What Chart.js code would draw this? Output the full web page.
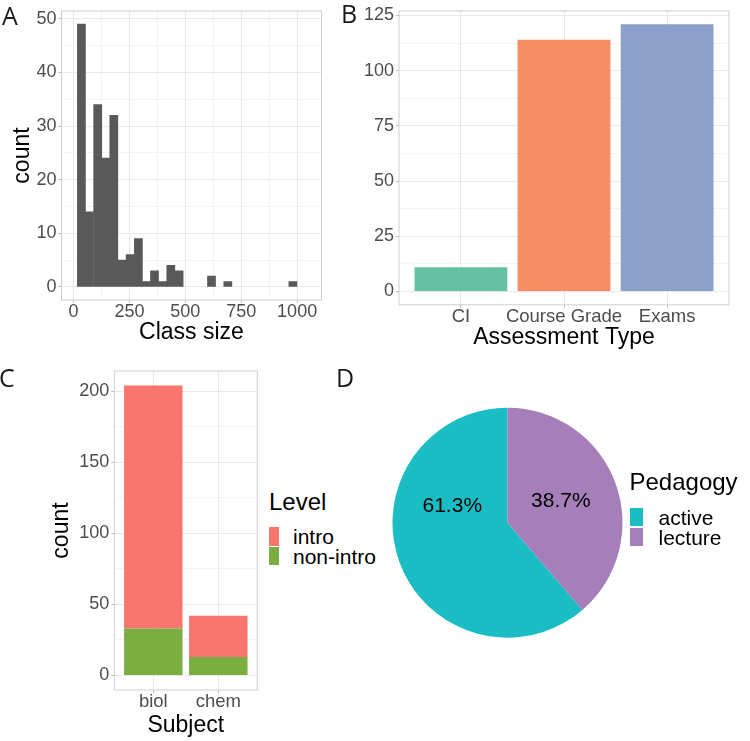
<!DOCTYPE html>
<html>
<head>
<meta charset="utf-8">
<script src="https://cdn.jsdelivr.net/npm/chart.js@4.4.1/dist/chart.umd.min.js"></script>
<style>
  body { margin: 0; background: #fff; }
  #wrap { position: relative; width: 750px; height: 741px; overflow: hidden; font-family: 'Liberation Sans', Arial, sans-serif; }
  canvas { position: absolute; }
  .tag { position: absolute; font-family: 'Open Sans', 'DejaVu Sans', sans-serif; font-size: 25px; line-height: 25px; color: #1a1a1a; }
  .lg { position: absolute; color: #000; white-space: nowrap; }
  .lg-title { font-size: 24px; line-height: 24px; }
  .lg-text { font-size: 21px; line-height: 21px; }
  .key { position: absolute; }
</style>
</head>
<body>
<div id="wrap">
  <canvas id="chartA" width="330" height="345" style="left:0;top:0"></canvas>
  <canvas id="chartB" width="420" height="350" style="left:330px;top:0"></canvas>
  <canvas id="chartC" width="262" height="381" style="left:0;top:360px"></canvas>
  <canvas id="chartD" width="370" height="381" style="left:380px;top:360px"></canvas>

  <div class="tag" style="left:2px;top:3px">A</div>
  <div class="tag" style="left:341px;top:1px">B</div>
  <div class="tag" style="left:-1px;top:365px">C</div>
  <div class="tag" style="left:336px;top:365px">D</div>

  <div id="legendC"></div>
  <div id="legendD"></div>
</div>

<script>
// A: histogram of class size
const binCenters = [35, 71, 108, 144, 180, 217, 253, 290, 326, 362, 399, 435, 472, 508,
  544, 581, 617, 654, 690, 726, 763, 799, 836, 872, 908, 945, 981];
const binCounts = [49, 14, 34, 24, 32, 5, 6, 9, 1, 3, 1, 4, 3, 0,
  0, 0, 2, 0, 1, 0, 0, 0, 0, 0, 0, 0, 1];
const ticksAx = [0, 250, 500, 750, 1000];
const ticksAy = [0, 10, 20, 30, 40, 50];

// B: assessment type
const assessTypes = ['CI', 'Course Grade', 'Exams'];
const assessCounts = [11, 114, 121];
const assessColors = ['#66C2A5', '#F68D63', '#8DA0CB'];
const ticksBy = [0, 25, 50, 75, 100, 125];

// C: subject by level
const subjects = ['biol', 'chem'];
const levels = ['intro', 'non-intro'];
const introCounts = [171, 29];
const nonIntroCounts = [33, 13];
const levelColors = ['#F8766D', '#7BAE41'];
const ticksCy = [0, 50, 100, 150, 200];

// D: pedagogy
const pedagogy = ['active', 'lecture'];
const pedagogyShare = [61.3, 38.7];
const pedagogyColors = ['#1BBDC4', '#A67FBA'];
const pieLabelTurn = [0.795, 0.189];

const FONT = "'Liberation Sans', Arial, sans-serif";
Chart.defaults.font.family = FONT;

const tickGrey = '#4D4D4D';

function withMinors(majors) {
  const out = majors.map(v => ({ value: v }));
  for (let i = 0; i < majors.length - 1; i++) {
    out.push({ value: (majors[i] + majors[i + 1]) / 2, minor: true });
  }
  return out.sort((a, b) => a.value - b.value);
}

function gridStyle() {
  return {
    color: ctx => (ctx.tick && ctx.tick.minor ? '#F3F3F3' : '#E8E8E8'),
    lineWidth: 1,
    offset: false,
    drawTicks: true,
    tickLength: 3,
    tickColor: ctx => (ctx.tick && ctx.tick.minor ? 'rgba(0,0,0,0)' : '#BDBDBD'),
  };
}

const panelBorder = {
  id: 'panelBorder',
  afterDatasetsDraw(chart) {
    const { ctx, chartArea: a } = chart;
    ctx.save();
    ctx.strokeStyle = '#CFCFCF';
    ctx.lineWidth = 1;
    ctx.strokeRect(a.left, a.top, a.right - a.left, a.bottom - a.top);
    ctx.restore();
  },
};

const baseOptions = {
  responsive: false,
  animation: false,
  events: [],
  plugins: { legend: { display: false }, tooltip: { enabled: false } },
};

// ---- A
new Chart(document.getElementById('chartA'), {
  type: 'bar',
  data: {
    datasets: [{
      // empty bins are left out so no zero-height sliver is drawn
      data: binCenters.map((x, i) => ({ x: x, y: binCounts[i] === 0 ? null : binCounts[i] })),
      backgroundColor: '#595959',
      borderWidth: 0,
      barPercentage: 1,
      categoryPercentage: 1,
    }],
  },
  options: {
    ...baseOptions,
    layout: { autoPadding: false, padding: { left: 0, right: 8.5, top: 3, bottom: 0 } },
    scales: {
      x: {
        type: 'linear',
        offset: false,
        min: -54,
        max: 1109,
        afterBuildTicks: s => { s.ticks = withMinors(ticksAx); },
        afterFit: s => { s.height = 45; },
        grid: gridStyle(),
        border: { display: false },
        ticks: {
          autoSkip: false, maxRotation: 0, padding: 0, color: tickGrey,
          font: { size: 18, lineHeight: 1 },
          callback: (v, i, t) => (t[i].minor ? '' : String(v)),
        },
        title: { display: true, text: 'Class size', color: '#000', font: { size: 23, lineHeight: 1 }, padding: { top: 0, bottom: 0.5 } },
      },
      y: {
        min: -2.45,
        max: 51.45,
        afterBuildTicks: s => { s.ticks = withMinors(ticksAy); },
        afterFit: s => { s.width = 61.5; },
        grid: gridStyle(),
        border: { display: false },
        ticks: {
          autoSkip: false, padding: 2, color: tickGrey,
          font: { size: 18, lineHeight: 1 },
          callback: (v, i, t) => (t[i].minor ? '' : String(v)),
        },
        title: { display: true, text: 'count', color: '#000', font: { size: 23, lineHeight: 1 }, padding: { top: 11.5, bottom: 0 } },
      },
    },
  },
  plugins: [panelBorder],
});

// ---- B
new Chart(document.getElementById('chartB'), {
  type: 'bar',
  data: {
    datasets: [{
      data: assessCounts.map((y, i) => ({ x: i + 1, y: y })),
      backgroundColor: assessColors,
      borderWidth: 0,
      barPercentage: 0.9,
      categoryPercentage: 1,
    }],
  },
  options: {
    ...baseOptions,
    layout: { autoPadding: false, padding: { left: 0, right: 21, top: 1.6, bottom: 0 } },
    scales: {
      x: {
        type: 'linear',
        offset: false,
        min: 0.4,
        max: assessTypes.length + 0.6,
        afterBuildTicks: s => { s.ticks = assessTypes.map((_, i) => ({ value: i + 1 })); },
        afterFit: s => { s.height = 45.2; },
        grid: gridStyle(),
        border: { display: false },
        ticks: {
          autoSkip: false, maxRotation: 0, padding: 0, color: tickGrey,
          font: { size: 18.5, lineHeight: 1 },
          callback: v => assessTypes[v - 1],
        },
        title: { display: true, text: 'Assessment Type', color: '#000', font: { size: 23, lineHeight: 1 }, padding: { top: 0, bottom: 0.5 } },
      },
      y: {
        min: -6.05,
        max: 127.05,
        afterBuildTicks: s => { s.ticks = withMinors(ticksBy); },
        afterFit: s => { s.width = 69; },
        grid: gridStyle(),
        border: { display: false },
        ticks: {
          autoSkip: false, padding: 2, color: tickGrey,
          font: { size: 18, lineHeight: 1 },
          callback: (v, i, t) => (t[i].minor ? '' : String(v)),
        },
      },
    },
  },
  plugins: [panelBorder],
});

// ---- C
new Chart(document.getElementById('chartC'), {
  type: 'bar',
  data: {
    datasets: [
      {
        label: levels[1],
        data: nonIntroCounts.map((y, i) => ({ x: i + 1, y: y })),
        backgroundColor: levelColors[1],
        borderWidth: 0,
        barPercentage: 0.9,
        categoryPercentage: 1,
      },
      {
        label: levels[0],
        data: introCounts.map((y, i) => ({ x: i + 1, y: y })),
        backgroundColor: levelColors[0],
        borderWidth: 0,
        barPercentage: 0.9,
        categoryPercentage: 1,
      },
    ],
  },
  options: {
    ...baseOptions,
    layout: { autoPadding: false, padding: { left: 0, right: 4.7, top: 4.3, bottom: 0 } },
    scales: {
      x: {
        type: 'linear',
        offset: false,
        stacked: true,
        min: 0.4,
        max: subjects.length + 0.6,
        afterBuildTicks: s => { s.ticks = subjects.map((_, i) => ({ value: i + 1 })); },
        afterFit: s => { s.height = 51; },
        grid: gridStyle(),
        border: { display: false },
        ticks: {
          autoSkip: false, maxRotation: 0, padding: 0, color: tickGrey,
          font: { size: 18.5, lineHeight: 1 },
          callback: v => subjects[v - 1],
        },
        title: { display: true, text: 'Subject', color: '#000', font: { size: 23, lineHeight: 1 }, padding: { top: 0, bottom: 4.2 } },
      },
      y: {
        stacked: true,
        min: -10.2,
        max: 214.2,
        afterBuildTicks: s => { s.ticks = withMinors(ticksCy); },
        afterFit: s => { s.width = 114.3; },
        grid: gridStyle(),
        border: { display: false },
        ticks: {
          autoSkip: false, padding: 2, color: tickGrey,
          font: { size: 18, lineHeight: 1 },
          callback: (v, i, t) => (t[i].minor ? '' : String(v)),
        },
        title: { display: true, text: 'count', color: '#000', font: { size: 23, lineHeight: 1 }, padding: { top: 50.5, bottom: 0 } },
      },
    },
  },
  plugins: [panelBorder],
});

// ---- D
const pieLabels = {
  id: 'pieLabels',
  afterDatasetsDraw(chart) {
    const ctx = chart.ctx;
    const arcs = chart.getDatasetMeta(0).data;
    ctx.save();
    ctx.font = '21px ' + FONT;
    ctx.fillStyle = '#000';
    ctx.textAlign = 'center';
    ctx.textBaseline = 'middle';
    arcs.forEach((arc, i) => {
      const a = pieLabelTurn[i] * 2 * Math.PI;
      const r = arc.outerRadius * 0.5;
      ctx.fillText(pedagogyShare[i].toFixed(1) + '%', arc.x + r * Math.sin(a), arc.y - r * Math.cos(a));
    });
    ctx.restore();
  },
};

new Chart(document.getElementById('chartD'), {
  type: 'pie',
  data: {
    labels: pedagogy,
    datasets: [{
      data: pedagogyShare,
      backgroundColor: pedagogyColors,
      borderWidth: 0,
    }],
  },
  options: {
    ...baseOptions,
    rotation: pedagogyShare[1] / 100 * 360,
    layout: { padding: { left: 12.5, right: 127.5, top: 47.7, bottom: 103.3 } },
  },
  plugins: [pieLabels],
});

// ---- legends (HTML text)
function buildLegend(id, title, items, colors, pos) {
  const el = document.getElementById(id);
  let html = '<div class="lg lg-title" style="left:' + pos.x + 'px;top:' + pos.titleTop + 'px">' + title + '</div>';
  items.forEach((name, i) => {
    const top = pos.keyTop + i * pos.keyStep;
    html += '<div class="key" style="left:' + pos.x + 'px;top:' + top + 'px;width:' + pos.keyW + 'px;height:' + pos.keyH + 'px;background:' + colors[i] + '"></div>';
    html += '<div class="lg lg-text" style="left:' + pos.textX + 'px;top:' + (top + pos.keyH / 2 - 10.5 + pos.textShift) + 'px">' + name + '</div>';
  });
  el.innerHTML = html;
}

buildLegend('legendC', 'Level', levels, levelColors,
  { x: 269, titleTop: 490, keyTop: 527, keyStep: 19.5, keyW: 10, keyH: 18.5, textX: 293, textShift: 0.5 });
buildLegend('legendD', 'Pedagogy', pedagogy, pedagogyColors,
  { x: 629.5, titleTop: 470, keyTop: 507.7, keyStep: 20, keyW: 13.5, keyH: 18.5, textX: 658.5, textShift: 0.5 });
</script>
</body>
</html>
